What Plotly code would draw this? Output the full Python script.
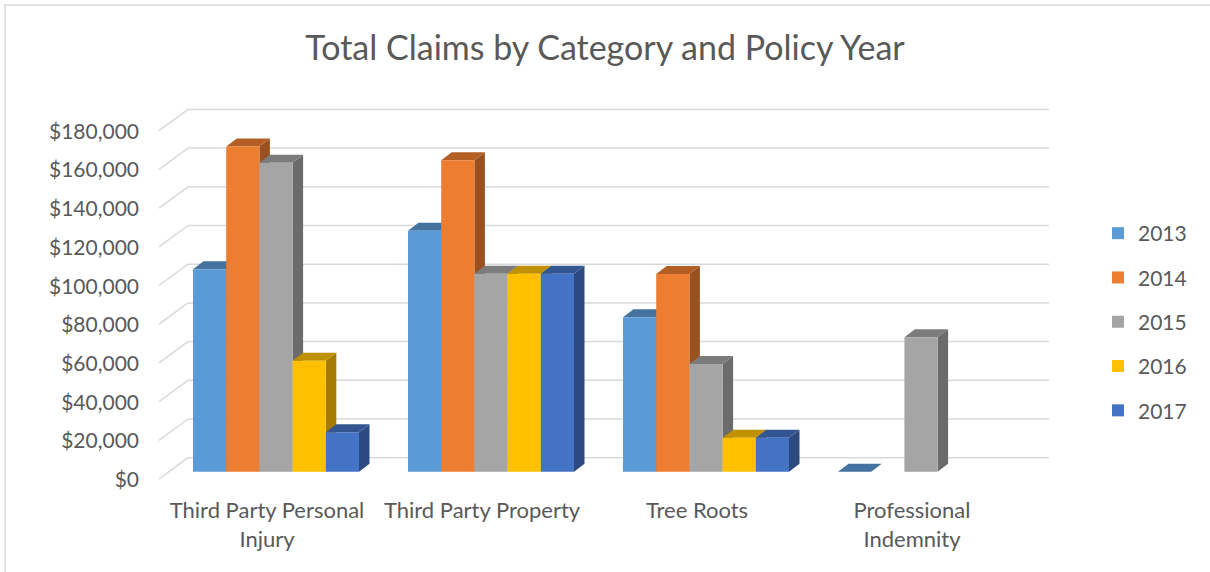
import plotly.graph_objects as go

# ---------------- data ----------------
categories = ["Third Party Personal<br>Injury", "Third Party Property", "Tree Roots", "Professional<br>Indemnity"]
years = ["2013", "2014", "2015", "2016", "2017"]
v2013 = [104600, 124500, 79800, 0]
v2014 = [168000, 160900, 102200, None]
v2015 = [159700, 102300, 55700, 69500]
v2016 = [57400, 102300, 17600, None]
v2017 = [20400, 102300, 17600, None]
series = [v2013, v2014, v2015, v2016, v2017]
tick_values = [0, 20000, 40000, 60000, 80000, 100000, 120000, 140000, 160000, 180000]
tick_labels = ["$0", "$20,000", "$40,000", "$60,000", "$80,000", "$100,000",
               "$120,000", "$140,000", "$160,000", "$180,000"]

colors = ["#5B9BD5", "#ED7D31", "#A5A5A5", "#FFC000", "#4472C4"]
top_colors = ["#44739f", "#b25e25", "#7c7c7c", "#bf9000", "#335693"]
side_colors = ["#3b6489", "#9a5120", "#6b6b6b", "#a67c00", "#2c4a7f"]

# ---------------- geometry (pixels) ----------------
W, H = 1210, 572
ML, MR, MT, MB = 140, 140, 90, 80
PW, PH = W - ML - MR, H - MT - MB
CAT_PX = 215.0               # pixels per category
X0_PX = 276.0                # pixel of category 0 centre
K = 38.7 / 20000.0           # pixels per dollar
ZERO_PX = 471.7              # pixel of $0 on the bar front plane

x_range = [(ML - X0_PX) / CAT_PX, (ML + PW - X0_PX) / CAT_PX]
y_range = [(ZERO_PX - (MT + PH)) / K, (ZERO_PX - MT) / K]

def px_to_x(px):
    return (px - X0_PX) / CAT_PX

bar_w = 33.2 / CAT_PX
depth_x = 10.5 / CAT_PX
depth_y = 8.0 / K

fig = go.Figure()
for i, (yr, vals) in enumerate(zip(years, series)):
    fig.add_trace(go.Bar(
        x=list(range(len(categories))), y=vals, name=yr,
        marker=dict(color=colors[i], line=dict(width=0)),
        legendgroup=yr,
    ))

shapes = []
# back wall gridlines + floor/side slants
wall_dy = 14.0 / K
front_dy = (479.0 - ZERO_PX) / K
for t in tick_values:
    shapes.append(dict(type="line", xref="x", yref="y", layer="below",
                       x0=px_to_x(188), x1=px_to_x(1049), y0=t + wall_dy, y1=t + wall_dy,
                       line=dict(color="#d9d9d9", width=1.5)))
    shapes.append(dict(type="line", xref="x", yref="y", layer="below",
                       x0=px_to_x(159), x1=px_to_x(188), y0=t - front_dy, y1=t + wall_dy,
                       line=dict(color="#d9d9d9", width=1.5)))

# 3D faces of the bars
for j in range(len(categories)):
    for i, vals in enumerate(series):
        v = vals[j]
        if v is None:
            continue
        xc = j + (i - 2) * bar_w
        xl, xr = xc - bar_w / 2, xc + bar_w / 2
        if v > 0:
            shapes.append(dict(type="path", xref="x", yref="y", layer="between",
                               path=f"M{xr},0 L{xr + depth_x},{depth_y} L{xr + depth_x},{v + depth_y} L{xr},{v} Z",
                               fillcolor=side_colors[i], line=dict(width=0)))
        shapes.append(dict(type="path", xref="x", yref="y", layer="between",
                           path=f"M{xl},{v} L{xr},{v} L{xr + depth_x},{v + depth_y} L{xl + depth_x},{v + depth_y} Z",
                           fillcolor=top_colors[i], line=dict(width=0)))

# outer chart border (top and left visible)
shapes.append(dict(type="rect", xref="paper", yref="paper", layer="below",
                   x0=(5 - ML) / PW, x1=(W + 10 - ML) / PW,
                   y0=(MT + PH - (H + 10)) / PH, y1=(MT + PH - 5) / PH,
                   line=dict(color="#d9d9d9", width=1.5), fillcolor="rgba(0,0,0,0)"))

FONT = "Lato"
fig.update_layout(
    width=W, height=H,
    margin=dict(l=ML, r=MR, t=MT, b=MB),
    paper_bgcolor="white", plot_bgcolor="white",
    barmode="group", bargap=1 - 5 * bar_w, bargroupgap=0,
    title=dict(text="Total Claims by Category and Policy Year",
               x=0.5, xref="paper", xanchor="center",
               y=1 - 48 / H, yref="container", yanchor="middle",
               font=dict(family=FONT, size=34, color="#595959")),
    font=dict(family=FONT, color="#595959", size=21),
    showlegend=True,
    legend=dict(x=(1098 - ML) / PW, xanchor="left",
                y=(MT + PH - 213) / PH, yanchor="top",
                font=dict(family=FONT, size=21, color="#595959"),
                tracegroupgap=14, bgcolor="rgba(0,0,0,0)"),
    xaxis=dict(range=x_range, tickvals=list(range(len(categories))), ticktext=categories,
               showgrid=False, zeroline=False, showline=False, ticks="",
               ticklabelshift=-9, ticklabelstandoff=3,
               tickfont=dict(family=FONT, size=22, color="#595959")),
    yaxis=dict(range=y_range, tickvals=tick_values, ticktext=tick_labels,
               showgrid=False, zeroline=False, showline=False, ticks="",
               ticklabelshift=8, tickfont=dict(family=FONT, size=21, color="#595959")),
    shapes=shapes,
)

fig.write_html("out.html")
